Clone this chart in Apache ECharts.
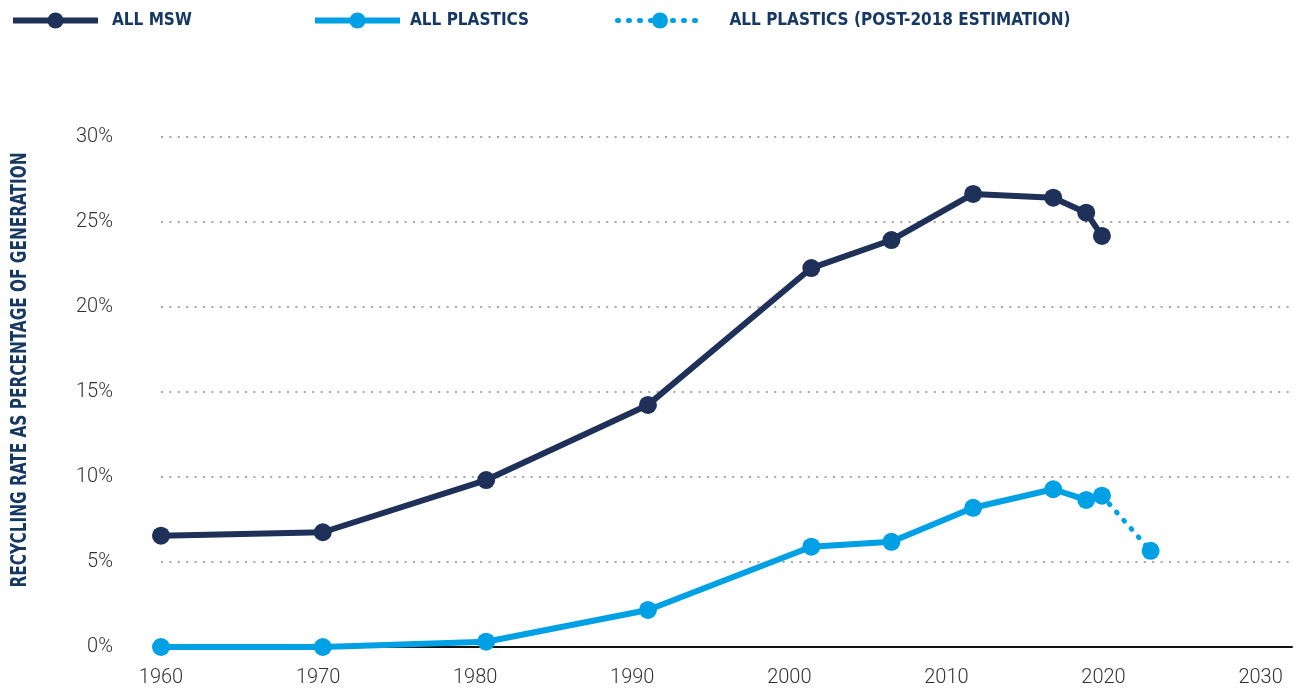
<!DOCTYPE html>
<html>
<head>
<meta charset="utf-8">
<script src="https://cdn.jsdelivr.net/npm/echarts@6/dist/echarts.min.js"></script>
<style>
  html, body { margin: 0; padding: 0; background: #ffffff; }
  #chart { width: 1299px; height: 689px; }
</style>
</head>
<body>
<div id="chart"></div>
<script>
// ---- data (x = position on the drawn year axis, y = %) ----
const seriesNames = ['ALL MSW', 'ALL PLASTICS', 'ALL PLASTICS (POST-2018 ESTIMATION)'];
const mswYears = [1960.0, 1970.3, 1980.7, 1991.0, 2001.4, 2006.5, 2011.7, 2016.8, 2018.9, 2019.9];
const mswRates = [6.55, 6.75, 9.82, 14.24, 22.29, 23.94, 26.65, 26.43, 25.55, 24.18];
const plasticYears = [1960.0, 1970.3, 1980.7, 1991.0, 2001.4, 2006.5, 2011.7, 2016.8, 2018.9, 2019.9];
const plasticRates = [0.0, 0.0, 0.31, 2.18, 5.90, 6.19, 8.19, 9.28, 8.65, 8.90];
const estimateYears = [2019.9, 2023.0];
const estimateRates = [8.90, 5.66];
const xTicks = [1960, 1970, 1980, 1990, 2000, 2010, 2020, 2030];
const yTicks = [0, 5, 10, 15, 20, 25, 30];
const yTitle = 'RECYCLING RATE AS PERCENTAGE OF GENERATION';

// ---- styling ----
const NAVY = '#1f3158';
const BLUE = '#00a0e4';
const TITLE_NAVY = '#173863';
const TICK_FONT = 'Roboto';
const COND_FAMILY = '"DejaVu Sans Condensed", "DejaVu Sans", sans-serif';

function pairs(xs, ys) { return xs.map((x, i) => [x, ys[i]]); }

// measure title to emulate the narrow face of the original
const mc = document.createElement('canvas').getContext('2d');
const titleFont = 'condensed bold 22px ' + COND_FAMILY;
mc.font = titleFont;
const titleW = mc.measureText(yTitle).width || 500;
const titleScale = 435 / titleW;

const chart = echarts.init(document.getElementById('chart'), null, { renderer: 'canvas' });

function legendAt(left, name, lineStyle, gap) {
  return {
    orient: 'horizontal',
    left: left,
    top: 12,
    padding: 0,
    itemWidth: 85,
    itemHeight: 20,
    data: [name],
    lineStyle: lineStyle,
    textStyle: {
      fontFamily: COND_FAMILY,
      fontStyle: 'condensed',
      fontWeight: 'bold',
      fontSize: 17,
      color: TITLE_NAVY,
      padding: [0, 0, 0, gap]
    }
  };
}

const option = {
  backgroundColor: '#ffffff',
  animation: false,
  legend: [
    legendAt(10, seriesNames[0], { width: 6 }, 9),
    legendAt(312, seriesNames[1], { width: 6 }, 5),
    legendAt(615, seriesNames[2], { width: 5, type: [1, 10], cap: 'round' }, 22)
  ],
  grid: { left: 161, right: 7, top: 137, bottom: 42, containLabel: false },
  xAxis: {
    type: 'value',
    min: xTicks[0],
    max: 2032,
    interval: 10,
    axisLine: { show: true, onZero: false, lineStyle: { color: '#111111', width: 2 } },
    axisTick: { show: false },
    splitLine: { show: false },
    axisLabel: {
      showMaxLabel: false,
      margin: 21,
      fontFamily: TICK_FONT,
      fontWeight: 300,
      fontSize: 20,
      color: '#333333',
      formatter: v => (xTicks.indexOf(v) >= 0 ? String(v) : '')
    }
  },
  yAxis: {
    type: 'value',
    min: yTicks[0],
    max: yTicks[yTicks.length - 1],
    interval: 5,
    axisLine: { show: false },
    axisTick: { show: false },
    splitLine: {
      show: true,
      lineStyle: { color: '#a6a6a6', width: 2, type: [2, 6.4] }
    },
    axisLabel: {
      margin: 48,
      padding: [0, 0, 10, 0],
      fontFamily: TICK_FONT,
      fontWeight: 300,
      fontSize: 20,
      color: '#333333',
      formatter: v => v + '%'
    }
  },
  graphic: [{
    type: 'text',
    x: 20,
    y: 370,
    rotation: Math.PI / 2,
    scaleX: titleScale,
    style: {
      text: yTitle,
      font: titleFont,
      fill: TITLE_NAVY,
      textAlign: 'center',
      textVerticalAlign: 'middle'
    }
  }],
  series: [
    {
      name: seriesNames[0],
      type: 'line',
      data: pairs(mswYears, mswRates),
      symbol: 'circle',
      symbolSize: 18,
      color: NAVY,
      lineStyle: { color: NAVY, width: 6 },
      itemStyle: { color: NAVY },
      z: 3
    },
    {
      name: seriesNames[1],
      type: 'line',
      data: pairs(plasticYears, plasticRates),
      symbol: 'circle',
      symbolSize: 18,
      color: BLUE,
      lineStyle: { color: BLUE, width: 6 },
      itemStyle: { color: BLUE },
      z: 4
    },
    {
      name: seriesNames[2],
      type: 'line',
      data: pairs(estimateYears, estimateRates).map((p, i) =>
        i === 0 ? { value: p, symbol: 'none' } : { value: p }),
      symbol: 'circle',
      symbolSize: 18,
      color: BLUE,
      lineStyle: { color: BLUE, width: 5, type: [1, 10], cap: 'round' },
      itemStyle: { color: BLUE },
      z: 3
    }
  ]
};

chart.setOption(option);
</script>
</body>
</html>
